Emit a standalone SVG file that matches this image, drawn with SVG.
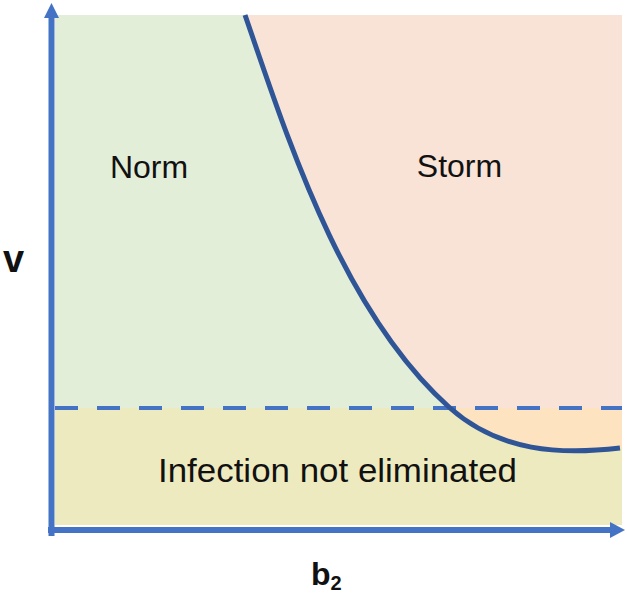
<svg xmlns="http://www.w3.org/2000/svg" width="627" height="597" viewBox="0 0 627 597">
<style>
.lbl{font-family:"Liberation Sans",Arial,sans-serif;fill:#111;}
.ax{stroke:#4472c4;stroke-width:6;fill:none;}
</style>
<rect width="627" height="597" fill="#ffffff"/>
<g id="regions">
<rect id="norm-region" x="55" y="15" width="567" height="393" fill="#e3eed9"/>
<path id="storm-region" d="M245,15 C285,130 340,310 450,408 L622,408 L622,15 Z" fill="#f9e2d6"/>
<rect id="infection-region" x="55" y="408" width="567" height="117" fill="#eeeac0"/>
<path id="storm-low-region" d="M450,408 C500,452 560,455 622,448 L622,408 Z" fill="#fde3c0"/>
</g>
<g id="connectors">
<line x1="55" y1="408" x2="622" y2="408" stroke="#4472c4" stroke-width="4" stroke-dasharray="23 19"/>
<path d="M245,15 C285,130 340,310 450,408 C500,452 560,455 620,448" stroke="#2f5597" stroke-width="5" fill="none"/>
<line class="ax" x1="51.5" y1="15" x2="51.5" y2="536"/>
<polygon points="51.5,3 44,18 59,18" fill="#4472c4"/>
<line class="ax" x1="48" y1="530" x2="612" y2="530"/>
<polygon points="625,530 610,522 610,538" fill="#4472c4"/>
</g>
<g id="labels">
<text class="lbl" x="149" y="178" font-size="32" text-anchor="middle">Norm</text>
<text class="lbl" x="459.5" y="177" font-size="32" text-anchor="middle">Storm</text>
<text class="lbl" x="158" y="482" font-size="33" textLength="359" lengthAdjust="spacingAndGlyphs">Infection not eliminated</text>
<text class="lbl" x="3" y="272" font-size="38" font-weight="bold">v</text>
<text class="lbl" x="311" y="585" font-size="32" font-weight="bold">b<tspan font-size="20" dy="5">2</tspan></text>
</g>
</svg>
